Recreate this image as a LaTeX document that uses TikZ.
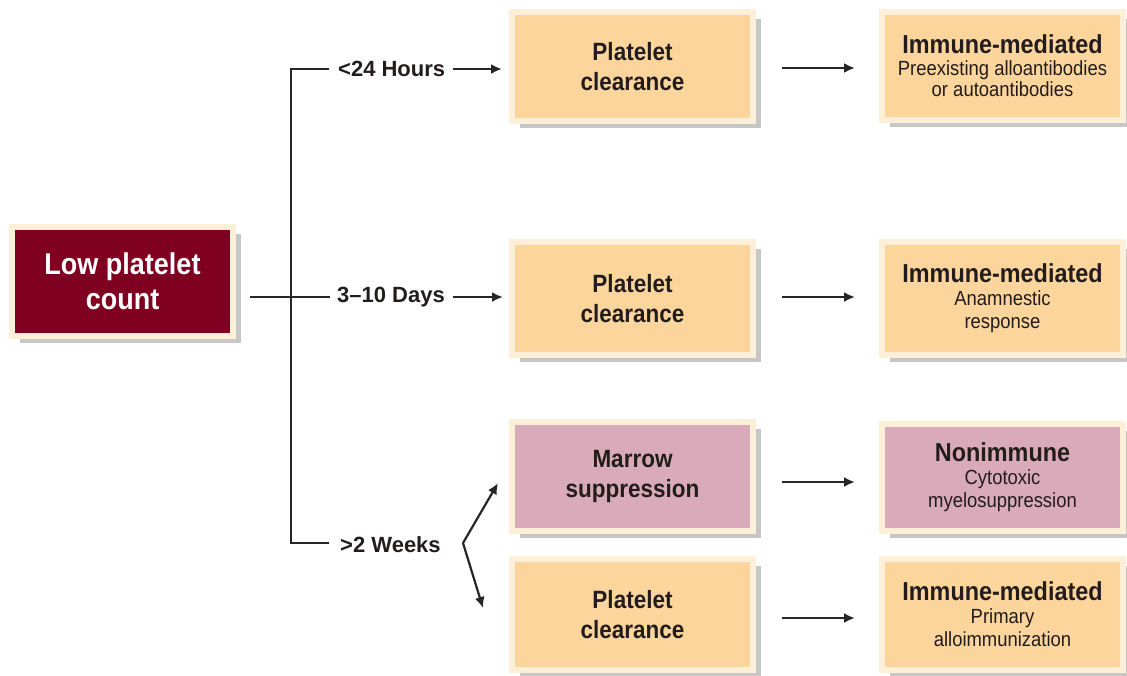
\documentclass[tikz,border=0pt]{standalone}
\usepackage{fontspec}
\setmainfont{Liberation Sans}[FakeStretch=0.9]
\newfontfamily\lblfont{Liberation Sans}
\usetikzlibrary{arrows.meta,shadows,calc}
\definecolor{boxorange}{HTML}{FBD59C}
\definecolor{boxpink}{HTML}{D9AAB9}
\definecolor{boxred}{HTML}{7F0021}
\definecolor{boxcream}{HTML}{FDEFD8}
\definecolor{txtdark}{HTML}{231C1D}
\definecolor{lnk}{HTML}{262626}
\tikzset{
  basebox/.style={draw=boxcream, line width=6pt, minimum width=241pt, minimum height=109pt,
    align=center, text=txtdark, inner sep=0pt,
    drop shadow={shadow xshift=8pt, shadow yshift=-7pt, fill=black!22, opacity=1}},
  obox/.style={basebox, fill=boxorange},
  pbox/.style={basebox, fill=boxpink},
  midtxt/.style={font=\bfseries\fontsize{25}{30}\selectfont},
  restxt/.style={font=\fontsize{20.5}{23}\selectfont},
  rbox/.style={basebox, fill=boxred, text=white, minimum width=221pt,
    font=\bfseries\fontsize{30}{35}\selectfont},
  lbl/.style={inner sep=0pt, text=txtdark, font=\lblfont\bfseries\fontsize{22}{24}\selectfont},
  lnkline/.style={draw=lnk, line width=2.2pt},
  arr/.style={lnkline, -{Latex[length=11pt,width=10pt]}},
}
\newcommand{\resttl}[1]{{\bfseries\fontsize{26}{26}\selectfont #1}}
\begin{document}
\begin{tikzpicture}[x=1pt,y=-1pt]
\useasboundingbox (0,0) rectangle (1127,675);
% source
\node[rbox, minimum height=109pt] (low) at (122.5,281.5) {Low platelet\\count};
% middle column
\node[obox, midtxt, minimum height=109pt] (p1) at (632.5,66.5) {Platelet\\clearance};
\node[obox, midtxt, minimum height=113pt] (p2) at (632.5,298.5) {Platelet\\clearance};
\node[pbox, midtxt, minimum height=109pt] (m3) at (632.5,476.5) {Marrow\\suppression};
\node[obox, midtxt, minimum height=111pt] (p4) at (632.5,614.5) {Platelet\\clearance};
% right column
\node[obox, restxt, font=\fontsize{20.5}{21.5}\selectfont, minimum height=108pt] (i1) at (1002.5,66)
  {\resttl{Immune-mediated}\\Preexisting alloantibodies\\or autoantibodies};
\node[obox, restxt, minimum height=113pt] (i2) at (1002.5,298.5)
  {\resttl{Immune-mediated}\\Anamnestic\\response};
\node[pbox, restxt, minimum height=107pt] (n3) at (1002.5,477.5)
  {\resttl{Nonimmune}\\Cytotoxic\\myelosuppression};
\node[obox, restxt, minimum height=111pt] (i4) at (1002.5,614.5)
  {\resttl{Immune-mediated}\\Primary\\alloimmunization};
% time labels
\node[lbl, anchor=west] (l1) at (338,69) {<24 Hours};
\node[lbl, anchor=west] (l2) at (337,297) {3–10 Days};
\node[lbl, anchor=west] (l3) at (340,545) {>2 Weeks};
% bracket
\coordinate (b1) at (291,69);
\coordinate (b3) at (291,543);
\coordinate (m0) at (250,297);
\draw[lnkline] ($(l1.west)+(-9,0)$) -- (b1) -- (b3) -- ($(l3.west)+(-11,-2)$);
\draw[lnkline, shorten >=7pt] (m0) -- (l2.west);
% arrows into middle column
\draw[arr, shorten <=8pt, shorten >=7pt] (l1.east) -- (l1.east -| p1.west);
\draw[arr, shorten <=8pt, shorten >=6pt] (l2.east) -- (l2.east -| p2.west);
\coordinate (v) at (463,543);
\coordinate (t1) at (498,483);
\coordinate (t2) at (483,608);
\draw[arr] (v) -- (t1);
\draw[arr] (v) -- (t2);
% arrows to right column
\draw[arr, shorten <=26pt, shorten >=24pt] ($(p1.east)+(0,1.5)$) -- ($(i1.west)+(0,2)$);
\draw[arr, shorten <=26pt, shorten >=24pt] ($(p2.east)+(0,-1.5)$) -- ($(i2.west)+(0,-1.5)$);
\draw[arr, shorten <=26pt, shorten >=24pt] ($(m3.east)+(0,5.5)$) -- ($(n3.west)+(0,4.5)$);
\draw[arr, shorten <=26pt, shorten >=24pt] ($(p4.east)+(0,3.5)$) -- ($(i4.west)+(0,3.5)$);
\end{tikzpicture}
\end{document}
